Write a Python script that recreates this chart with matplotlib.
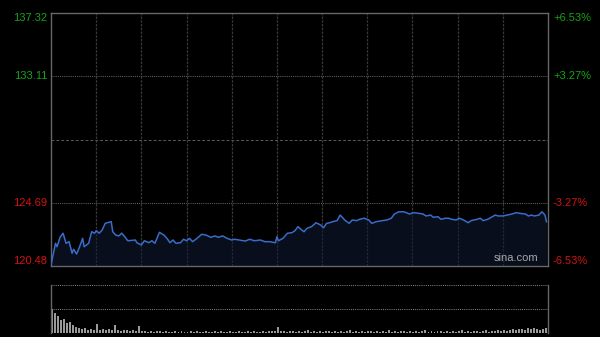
import numpy as np
import matplotlib
matplotlib.use("Agg")
import matplotlib.pyplot as plt

plt.rcParams["font.family"] = ["Liberation Sans", "DejaVu Sans"]

# intraday price (minutes since open, price)
minutes = [0, 3, 4, 6, 8, 10, 12, 14, 15, 17, 19, 21, 22, 25, 27, 29, 30, 32, 34, 36,
           40, 41, 43, 45, 47, 49, 51, 56, 57, 60, 62, 65, 67, 69, 72, 75, 77, 79, 81, 83,
           86, 88, 90, 92, 94, 97, 100, 103, 106, 109, 111, 114, 117, 120, 122, 125, 129, 132, 135, 139,
           142, 145, 149, 150, 151, 154, 157, 160, 162, 164, 166, 168, 170, 173, 176, 179, 181, 183, 185, 187,
           190, 192, 194, 195, 198, 200, 203, 205, 208, 211, 213, 216, 220, 223, 226, 228, 231, 234, 236, 238,
           241, 244, 247, 249, 252, 254, 257, 259, 262, 264, 266, 269, 271, 274, 277, 279, 283, 285, 287, 290,
           293, 295, 297, 300, 303, 306, 309, 311, 315, 317, 319, 321, 324, 326, 328, 329]
prices = [120.55, 121.99, 121.76, 122.39, 122.66, 121.99, 122.10, 121.33, 121.59, 121.28,
          121.76, 122.32, 121.76, 121.99, 122.76, 122.66, 122.83, 122.66, 122.88, 123.32,
          123.43, 122.76, 122.54, 122.48, 122.66, 122.43, 122.16, 122.21, 122.03, 121.88,
          122.16, 122.03, 122.16, 121.99, 122.72, 122.54, 122.32, 122.03, 122.21, 121.99,
          122.03, 122.26, 122.16, 122.32, 122.10, 122.32, 122.59, 122.54, 122.39, 122.48,
          122.39, 122.48, 122.32, 122.21, 122.26, 122.21, 122.14, 122.26, 122.16, 122.21,
          122.10, 122.10, 122.03, 122.43, 122.16, 122.32, 122.66, 122.70, 122.83, 123.10,
          122.92, 122.76, 122.99, 123.10, 123.36, 123.21, 123.03, 123.32, 123.36, 123.43,
          123.50, 123.87, 123.66, 123.54, 123.32, 123.54, 123.50, 123.59, 123.66, 123.54,
          123.32, 123.43, 123.50, 123.54, 123.66, 123.94, 124.09, 124.09, 124.03, 123.94,
          124.03, 123.99, 123.94, 123.81, 123.87, 123.72, 123.76, 123.59, 123.66, 123.66,
          123.59, 123.54, 123.66, 123.54, 123.36, 123.50, 123.59, 123.66, 123.50, 123.59,
          123.76, 123.87, 123.81, 123.81, 123.87, 123.94, 124.03, 123.99, 123.94, 123.81,
          123.87, 123.81, 123.87, 124.09, 123.87, 123.43]

# volume per 2-minute bucket (relative units)
volume = [24, 20, 17, 13, 14, 10, 11, 8, 6, 5, 4, 5, 3, 4, 3, 9, 3, 4, 3, 4,
          3, 8, 3, 2, 3, 3, 2, 3, 2, 7, 2,
          2, 1, 2, 1, 2, 2, 1, 2, 1, 1, 2, 1, 2, 1, 1, 2, 1, 2, 1, 1,
          2, 1, 1, 2, 1, 2, 1, 1, 2, 1, 1, 2, 1, 1, 2, 1, 2, 1, 1, 2, 1, 2,
          2, 2, 6, 2,
          2, 1, 2, 2, 1, 2, 1, 2, 3, 1, 2, 1, 2, 1, 2, 2, 1, 2, 1, 2,
          1, 2, 3, 1, 2, 1, 2, 1, 2, 2, 1, 2, 1, 2, 1, 3, 1, 2, 1, 2,
          2, 1, 2, 1, 2, 1, 2, 3, 1, 2, 1, 2, 2, 1, 2, 1, 2, 1, 2, 3,
          1, 2, 1, 2, 2, 1, 2, 3, 1, 2, 2, 3, 2, 3, 2, 3, 4, 3, 4, 4,
          3, 5, 4, 5, 4, 3, 4, 5]

prev_close = 128.90
price_ticks = [137.32, 133.11, 128.90, 124.69, 120.48]
pct_labels = ["+6.53%", "+3.27%", "", "-3.27%", "-6.53%"]
session_len = 330

up_col = "#17a317"
down_col = "#d41111"
line_col = "#3a6cc8"

fig = plt.figure(figsize=(6, 3.37), dpi=100, facecolor="black")
ax = fig.add_axes([0.085, 0.2107, 0.8283, 0.7507], facecolor="black")
axv = fig.add_axes([0.085, 0.0119, 0.8283, 0.1424], facecolor="black")

ax.set_xlim(0, session_len)
ax.set_ylim(price_ticks[-1], price_ticks[0])

for m in range(30, session_len, 30):
    ax.axvline(m, color="#383838", lw=0.9, ls=(0, (2, 1)), zorder=1)
for p in [price_ticks[1], price_ticks[3]]:
    ax.axhline(p, color="#6a6a6a", lw=0.7, ls=(0, (1, 1.2)), zorder=1)
ax.axhline(prev_close, color="#5a5a5a", lw=0.7, ls=(0, (3, 2)), zorder=1)

ax.fill_between(minutes, prices, price_ticks[-1], color="#101a33", alpha=0.55, lw=0, zorder=2)
ax.plot(minutes, prices, color=line_col, lw=1.1, zorder=3)

ax.set_xticks([])
ax.set_yticks([])
for s in ax.spines.values():
    s.set_color("#666666")
    s.set_linewidth(1.0)

for i, (p, lab) in enumerate(zip(price_ticks, pct_labels)):
    if i == 2:
        continue
    col = up_col if p > prev_close else down_col
    va = "top" if i == 0 else ("bottom" if i == 4 else "center")
    ax.text(-0.008, p, f"{p:.2f}", transform=ax.get_yaxis_transform(),
            ha="right", va=va, color=col, fontsize=8)
    ax.text(1.01, p, lab, transform=ax.get_yaxis_transform(),
            ha="left", va=va, color=col, fontsize=8)

ax.text(0.98, 0.012, "sina.com", transform=ax.transAxes, ha="right", va="bottom",
        color="#a8a8a8", fontsize=8)

# volume panel
vx = np.arange(len(volume)) * 2
axv.bar(vx, volume, width=1.3, align="edge", color="#9a9a9a", lw=0)
axv.set_xlim(0, session_len)
vmax = max(volume) * 2
axv.set_ylim(0, vmax)
axv.axhline(vmax * 0.5, color="#8a8a8a", lw=0.7, ls=(0, (1, 1.2)))
axv.axhline(vmax * 0.995, color="#8a8a8a", lw=0.7, ls=(0, (1, 1.2)))
axv.set_xticks([])
axv.set_yticks([])
axv.spines["top"].set_visible(False)
axv.spines["bottom"].set_visible(False)
for k in ["left", "right"]:
    axv.spines[k].set_color("#666666")
    axv.spines[k].set_linewidth(1.0)

fig.savefig("out.png", dpi=100, facecolor="black")
